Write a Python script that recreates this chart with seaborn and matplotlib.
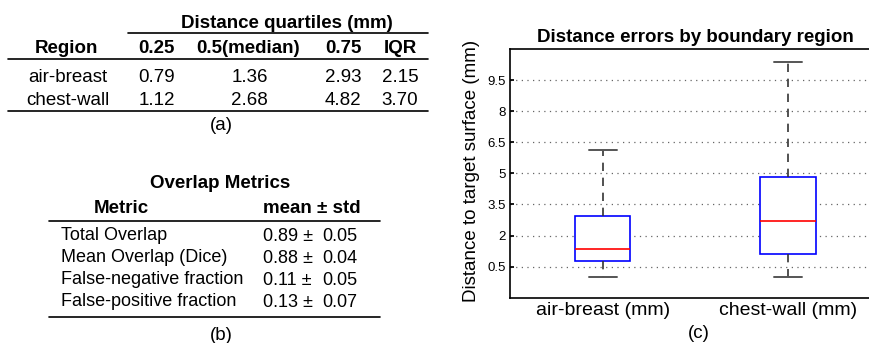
import numpy as np
import pandas as pd
import matplotlib
matplotlib.use("Agg")
import matplotlib.pyplot as plt
from matplotlib.lines import Line2D
import seaborn as sns

# ---------------- data ----------------
regions = ["air-breast", "chest-wall"]
box_labels = ["air-breast (mm)", "chest-wall (mm)"]
q25 = [0.79, 1.12]
q50 = [1.36, 2.68]
q75 = [2.93, 4.82]
iqr = [2.15, 3.70]
whisker_low = [0.0, 0.0]
whisker_high = [6.13, 10.36]

quartile_headers = ["Region", "0.25", "0.5(median)", "0.75", "IQR"]
overlap_metrics = ["Total Overlap", "Mean Overlap (Dice)",
                   "False-negative fraction", "False-positive fraction"]
overlap_mean = [0.89, 0.88, 0.11, 0.13]
overlap_std = [0.05, 0.04, 0.05, 0.07]
y_ticks = [0.5, 2, 3.5, 5, 6.5, 8, 9.5]

# long table for seaborn boxplot (five-number summary per region)
rows = []
for lab, lo, a, m, b, hi in zip(box_labels, whisker_low, q25, q50, q75, whisker_high):
    for v in (lo, a, m, b, hi):
        rows.append({"region": lab, "value": v})
df = pd.DataFrame(rows)

# ---------------- figure ----------------
sns.set_theme(style="white")
plt.rcParams["font.family"] = ["Liberation Sans", "DejaVu Sans"]

W, H = 870, 343
fig = plt.figure(figsize=(W / 100, H / 100), dpi=100)


def fx(x):
    return x / W


def fy(y):
    return 1 - y / H


def hline(x0, x1, y, lw=1.2):
    fig.add_artist(Line2D([fx(x0), fx(x1)], [fy(y), fy(y)],
                          transform=fig.transFigure, color="black", lw=lw))


def txt(x, y, s, size=13.5, ha="center", weight="normal"):
    fig.text(fx(x), fy(y), s, ha=ha, va="baseline", fontsize=size,
             fontweight=weight, color="black")


# ---- table (a) ----
txt(286.7, 27.5, "Distance quartiles (mm)", weight="bold")
hline(128, 428, 33.3)
head_x = [66.7, 156.7, 248.3, 343.3, 400]
for x, s in zip(head_x, quartile_headers):
    txt(x, 52.7, s, weight="bold")
hline(8, 428, 59)
row_y = [81.7, 105]
val_x = [156.7, 249.5, 343, 400]
for i, reg in enumerate(regions):
    txt(68, row_y[i], reg)
    vals = [q25[i], q50[i], q75[i], iqr[i]]
    for x, v in zip(val_x, vals):
        txt(x, row_y[i], f"{v:.2f}")
hline(8, 428, 111)
txt(221.7, 130.5, "(a)")

# ---- table (b) ----
txt(220, 188.3, "Overlap Metrics", weight="bold")
txt(121.7, 213.3, "Metric", weight="bold")
txt(311.7, 213.3, "mean \u00b1 std", weight="bold")
hline(49.3, 380, 220.7)
ov_y = [240, 262.3, 284, 306.3]
for y, name, m, s in zip(ov_y, overlap_metrics, overlap_mean, overlap_std):
    txt(61.5, y, name, size=13, ha="left")
    txt(263.3, y + 0.7, f"{m:.2f} \u00b1", size=13, ha="left")
    txt(322.7, y + 0.7, f"{s:.2f}", size=13, ha="left")
hline(49.3, 380, 316.7)
txt(221.7, 340, "(b)")

# ---- boxplot (c) ----
ax = fig.add_axes([fx(510), fy(297.7), 370.5 / W, 248.7 / H])
sns.boxplot(data=df, x="region", y="value", order=box_labels, ax=ax,
            width=0.3, whis=1.5, fill=True, showfliers=False,
            boxprops=dict(facecolor="white", edgecolor="#0000ff", linewidth=1.2),
            medianprops=dict(color="#ff0000", linewidth=1.2),
            whiskerprops=dict(color="#333333", linewidth=1.2, linestyle=(0, (5, 4))),
            capprops=dict(color="#555555", linewidth=1.4))
ax.set_xlim(-0.5, 1.5)
ax.set_ylim(-1, 11)
ax.set_yticks(y_ticks)
ax.set_yticklabels([f"{t:g}" for t in y_ticks])
ax.yaxis.grid(True, linestyle=(0, (1, 3.5)), color="#666666", lw=0.9)
ax.xaxis.grid(False)
ax.set_axisbelow(True)
for sp in ax.spines.values():
    sp.set_visible(True)
    sp.set_color("black")
    sp.set_linewidth(1.2)
ax.tick_params(axis="y", direction="in", length=3, left=True, right=True,
               labelsize=9.5, pad=3, colors="black")
ax.tick_params(axis="x", length=0, labelsize=14, pad=3, colors="black")
ax.set_xlabel("")
ax.set_ylabel("Distance to target surface (mm)", fontsize=13.5, color="black")
ax.yaxis.set_label_coords(-0.082, 0.51)
ax.set_title("Distance errors by boundary region", fontsize=13.5,
             fontweight="bold", pad=5, color="black")
txt(699, 338.3, "(c)")

fig.savefig("out.png", dpi=100)
